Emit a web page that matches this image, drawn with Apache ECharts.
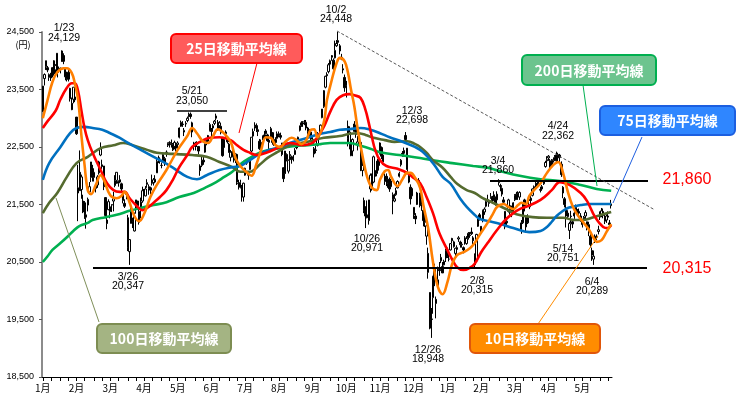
<!DOCTYPE html>
<html><head><meta charset="utf-8">
<script src="https://cdn.jsdelivr.net/npm/echarts/dist/echarts.min.js"></script>
<style>html,body{margin:0;padding:0;background:#fff;}#c{width:737px;height:417px;}</style>
</head><body><div id="c"></div>
<script>
// ---- x axis month labels (one label every 21 trading days) ----
const monthLabels = ['1月','2月','3月','4月','5月','6月','7月','8月','9月','10月','11月','12月','1月','2月','3月','4月','5月'];
const yTicks = [18500, 24500, 1000]; // min, max, step

// ---- daily candles [open, close, low, high] ----
const jan18 = [[23120,23560,23110,23560],[23690,23760,23570,23780],[24000,23900,23840,24000],[23880,23840,23800,23910],[23710,23760,23650,23780],[23770,23700,23650,23790],[23880,23760,23710,23880],[23770,24000,23740,24010],[23840,23920,23770,23940],[24130,23810,23710,24130],[23850,23860,23790,23900],[23850,23870,23780,23880],[23990,24170,23980,24180],[24090,23990,23940,24130],[23870,23720,23660,23880],[23690,23680,23640,23810],[23800,23680,23640,23840],[23520,23340,23290,23530],[23260,23150,23140,23360]];
const feb18 = [[23330,23540,23260,23540],[23370,23320,23280,23460],[23020,22730,22710,23020],[21790,21700,21210,22190],[22060,21740,21740,22440],[21760,21980,21600,22020],[21560,21510,21350,21670],[21530,21370,21250,21560],[21320,21280,21080,21410],[21490,21590,21380,21620],[21720,21810,21670,21890],[21970,22240,21890,22240],[22100,22010,21900,22190],[21970,22060,21900,22130],[21780,21830,21710,21860],[21840,21980,21790,22010],[22050,22240,22020,22260],[22360,22470,22340,22580],[22190,22160,22120,22280]];
const mar18 = [[22170,21810,21750,22170],[21620,21310,21260,21630],[21230,21170,21070,21340],[21410,21550,21400,21590],[21460,21380,21260,21520],[21490,21500,21370,21500],[21560,21600,21380,21720],[21830,21910,21800,22010],[21920,22060,21860,22060],[21900,21870,21810,21920],[21930,21890,21870,22010],[21860,21770,21730,21880],[21690,21570,21520,21700],[21520,21470,21440,21590],[21680,21680,21590,21700],[21270,20750,20690,21320],[20680,20890,20450,20900],[21170,21450,21170,21450],[21210,21160,21090,21270],[21040,21290,21030,21360],[21430,21580,21340,21580]];
const apr18 = [[21560,21480,21420,21560],[21190,21380,21150,21430],[21540,21410,21260,21620],[21560,21740,21530,21810],[21730,21660,21570,21770],[21650,21770,21640,21820],[21850,21880,21790,21940],[21810,21780,21670,21850],[21790,21750,21680,21810],[21890,21870,21830,22020],[21880,21930,21830,21960],[21890,21940,21870,22010],[22050,22250,22050,22290],[22300,22280,22220,22350],[22290,22250,22210,22320],[22180,22180,22130,22230],[22250,22370,22240,22380],[22230,22300,22170,22330],[22400,22410,22330,22440],[22530,22560,22500,22580]];
const may18 = [[22570,22580,22490,22600],[22560,22540,22490,22630],[22450,22540,22430,22570],[22510,22580,22460,22610],[22560,22480,22420,22570],[22540,22570,22470,22600],[22670,22830,22650,22840],[22860,22930,22850,22960],[22900,22890,22850,22950],[22760,22790,22690,22830],[22900,22910,22850,22950],[22960,23000,22930,23030],[23030,23070,23010,23100],[23070,23030,22990,23100],[22920,22760,22670,22940],[22570,22510,22440,22590],[22530,22520,22440,22590],[22550,22550,22500,22600],[22510,22430,22370,22510],[22170,22090,22000,22200],[22180,22270,22150,22330]];
const jun18 = [[22270,22240,22190,22330],[22410,22550,22400,22560],[22600,22610,22530,22630],[22600,22700,22570,22710],[22790,22890,22770,22920],[22820,22770,22670,22830],[22830,22870,22790,22900],[22910,22950,22880,22970],[23000,23040,22960,23080],[22930,22810,22780,22970],[22870,22920,22820,22950],[22860,22750,22720,22870],[22670,22350,22330,22670],[22490,22630,22460,22670],[22730,22760,22680,22790],[22630,22590,22560,22680],[22550,22410,22400,22570],[22320,22410,22250,22450],[22420,22340,22320,22530],[22320,22340,22230,22410],[22270,22380,22220,22390]];
const jul18 = [[22370,21890,21840,22370],[21860,21870,21760,21930],[21880,21800,21780,21930],[21820,21630,21550,21840],[21630,21870,21550,21880],[22010,22130,22000,22140],[22220,22270,22190,22280],[22030,22010,21930,22050],[22110,22260,22100,22300],[22430,22670,22410,22670],[22690,22770,22670,22820],[22880,22860,22780,22930],[22870,22830,22760,22910],[22800,22770,22690,22870],[22600,22470,22450,22640],[22480,22580,22460,22630],[22640,22690,22620,22700],[22710,22660,22620,22780],[22730,22780,22720,22810],[22710,22610,22590,22730],[22580,22620,22450,22650]];
const aug18 = [[22670,22820,22660,22850],[22750,22580,22540,22760],[22570,22600,22520,22640],[22630,22580,22540,22670],[22650,22730,22640,22770],[22730,22710,22670,22770],[22700,22670,22630,22750],[22570,22370,22340,22570],[22140,21950,21890,22140],[22040,22430,22030,22430],[22370,22280,22250,22390],[22080,22270,22040,22280],[22370,22350,22270,22430],[22330,22280,22210,22350],[22300,22300,22250,22360],[22370,22440,22360,22480],[22500,22490,22460,22560],[22510,22670,22480,22680],[22790,22870,22770,22870],[22920,22880,22850,22950],[22900,22920,22850,22950],[22940,22940,22880,22970],[22830,22930,22790,22970]];
const sep18 = [[22830,22770,22710,22850],[22780,22760,22690,22810],[22760,22640,22610,22780],[22610,22560,22530,22670],[22470,22380,22320,22500],[22450,22440,22390,22520],[22530,22730,22510,22760],[22710,22670,22580,22740],[22750,22880,22740,22890],[23010,23160,23000,23160],[23200,23480,23180,23490],[23540,23730,23520,23740],[23760,23740,23690,23800],[23810,23930,23780,23960],[23940,24000,23920,24020],[24060,24090,24000,24100],[24010,23860,23830,24040],[24050,24180,24040,24350]];
const oct18 = [[24260,24300,24240,24360],[24350,24320,24260,24500],[24260,24170,24110,24290],[24060,24030,24010,24120],[23860,23840,23780,23940],[23710,23530,23460,23760],[23560,23570,23360,23650],[22860,22650,22510,22960],[22560,22760,22460,22860],[22580,22350,22340,22680],[22430,22630,22340,22650],[22770,22900,22760,22950],[22860,22720,22660,22890],[22540,22590,22440,22690],[22710,22680,22650,22760],[22580,22100,22080,22580],[22090,22180,21990,22290],[21570,21390,21350,21620],[21420,21300,21090,21470],[21320,21270,21260,21570],[21220,21580,21150,21580],[21770,22010,21710,22040]];
const nov18 = [[21990,21780,21740,22040],[21890,22330,21870,22350],[22090,21990,21970,22140],[22040,22240,21990,22260],[22290,22180,22090,22320],[22390,22570,22370,22580],[22490,22340,22290,22510],[22240,22360,22190,22390],[21990,21900,21840,22040],[21990,21940,21820,22040],[21870,21890,21790,21940],[21940,21770,21720,21970],[21810,21910,21790,21940],[21590,21670,21330,21710],[21560,21600,21540,21690],[21670,21740,21650,21790],[21790,21900,21780,21920],[21990,22040,21970,22070],[22190,22270,22160,22290],[22390,22350,22330,22430],[22390,22440,22330,22490]];
const dec18 = [[22700,22630,22590,22760],[22480,22110,22070,22480],[21890,22010,21870,22040],[21800,21600,21500,21850],[21650,21780,21600,21800],[21450,21320,21250,21450],[21300,21250,21160,21350],[21500,21700,21490,21720],[21900,21920,21850,21960],[21700,21480,21450,21700],[21500,21610,21390,21610],[21400,21220,21120,21400],[21320,21190,21110,21410],[20950,21130,20800,21150],[20650,20320,20210,20750],[19970,19350,19330,19970],[19500,19510,19180,19700],[19880,20250,19600,20260],[20370,20190,20080,20470]];
const jan19 = [[19850,19780,19520,19900],[20090,20190,20060,20420],[20370,20350,20260,20500],[20520,20580,20480,20640],[20420,20310,20310,20500],[20450,20510,20440,20540],[20570,20700,20500,20730],[20710,20590,20570,20750],[20550,20550,20510,20630],[20710,20820,20700,20830],[20910,20870,20830,20920],[20850,20770,20750,20870],[20650,20740,20600,20750],[20750,20720,20650,20790],[20900,20920,20850,20950],[20850,20800,20750,20870],[20800,20810,20750,20850],[20750,20710,20650,20770],[20850,20920,20800,20950]];
const feb19 = [[20820,20910,20800,20950],[20920,21000,20890,21020],[20970,20960,20920,21020],[21020,20990,20970,21100],[20920,20870,20780,20950],[20620,20450,20400,20650],[20520,20980,20510,20990],[21120,21260,21110,21290],[21320,21260,21220,21350],[21120,21020,20980,21120],[21220,21400,21190,21410],[21370,21420,21320,21450],[21470,21550,21450,21590],[21570,21580,21540,21670],[21520,21540,21460,21580],[21620,21640,21600,21700],[21620,21570,21540,21650],[21620,21670,21570,21730],[21620,21500,21480,21640]];
const mar19 = [[21580,21680,21530,21730],[21880,21900,21830,21940],[21830,21810,21730,21860],[21780,21680,21640,21800],[21580,21540,21500,21630],[21380,21110,21070,21380],[21180,21210,21130,21280],[21380,21580,21360,21600],[21480,21370,21320,21530],[21430,21370,21280,21480],[21380,21530,21350,21540],[21580,21660,21560,21680],[21680,21650,21580,21720],[21630,21690,21580,21730],[21630,21710,21580,21730],[21180,21060,20990,21230],[21180,21510,21160,21510],[21580,21460,21380,21600],[21280,21110,21010,21300],[21180,21290,21160,21330]];
const apr19 = [[21460,21570,21420,21600],[21610,21570,21530,21650],[21660,21770,21640,21780],[21810,21780,21720,21830],[21840,21870,21800,21890],[21860,21820,21790,21890],[21860,21860,21810,21890],[21760,21750,21710,21810],[21810,21770,21740,21840],[21860,21930,21840,21960],[22160,22230,22140,22260],[22260,22280,22220,22340],[22310,22340,22260,22360],[22260,22150,22120,22290],[22160,22260,22150,22290],[22260,22280,22230,22320],[22330,22320,22260,22360],[22360,22260,22210,22420],[22310,22370,22260,22400],[22360,22320,22230,22380]];
const may19 = [[22200,22020,21980,22250],[21800,21700,21610,21820],[21600,21500,21450,21630],[21300,21440,21100,21500],[21350,21290,21250,21400],[21050,21170,20900,21200],[21300,21290,21180,21390],[21200,21160,21090,21250],[21300,21350,21250,21400],[21450,21400,21350,21500],[21400,21370,21300,21420],[21350,21380,21300,21430],[21300,21250,21200,21350],[21150,21220,21100,21250],[21250,21280,21200,21300],[21300,21360,21250,21400],[21200,21100,21050,21200],[21050,21150,20950,21200],[20950,20800,20750,21000]];
const jun19 = [[20700,20620,20520,20750],[20550,20600,20450,20700],[20880,20950,20830,20980],[20930,20950,20880,20980],[21030,21060,20980,21130],[21280,21310,21230,21380],[21330,21390,21280,21440],[21380,21310,21260,21430],[21280,21210,21160,21330],[21230,21300,21180,21330],[21280,21300,21230,21380],[21180,21150,21080,21230],[21480,21510,21430,21580]];

// ---- moving averages [trading-day index, value] ----
const ma10 = [[0,23000],[3,23320],[6,23630],[9,23800],[13,23870],[15,23870],[18,23790],[20,23600],[22,23320],[24,22710],[26,22190],[28,21750],[30,21680],[33,21840],[36,22010],[38,21930],[42,21660],[46,21610],[49,21650],[51,21720],[54,21540],[57,21300],[60,21210],[63,21330],[67,21630],[71,21840],[77,22100],[84,22450],[90,22690],[93,22830],[96,22740],[100,22590],[103,22570],[106,22690],[109,22810],[112,22760],[117,22590],[120,22310],[123,22170],[127,22060],[130,22000],[133,22200],[136,22450],[139,22670],[142,22660],[145,22530],[148,22500],[151,22590],[155,22660],[158,22620],[161,22550],[164,22620],[167,22800],[169,22810],[171,22670],[175,22930],[177,23320],[180,23670],[183,23960],[185,24050],[188,23990],[190,23800],[192,23490],[194,23210],[196,22830],[199,22360],[202,21980],[205,21790],[208,21750],[210,21930],[213,22080],[215,22100],[217,21980],[221,21820],[224,21940],[227,22050],[229,22050],[232,21960],[235,21790],[237,21490],[240,21090],[243,20500],[246,20070],[249,19940],[252,20150],[255,20470],[258,20620],[262,20670],[266,20740],[269,20830],[272,20970],[277,21180],[280,21320],[283,21460],[287,21510],[290,21460],[293,21420],[296,21490],[298,21530],[301,21510],[303,21650],[307,21780],[310,21870],[314,22050],[318,22190],[321,22240],[324,22050],[327,21720],[330,21470],[333,21320],[336,21210],[340,21070],[343,20920],[345,20850],[348,20880],[351,21020],[354,21160]];
const ma25 = [[0,22830],[3,22950],[8,23130],[11,23330],[15,23530],[18,23610],[20,23610],[22,23470],[24,23140],[26,22830],[28,22620],[31,22400],[36,22100],[40,21870],[44,21750],[48,21720],[51,21720],[54,21610],[59,21460],[62,21400],[65,21440],[69,21530],[73,21630],[77,21750],[81,21930],[85,22150],[90,22360],[93,22500],[98,22590],[104,22660],[110,22670],[117,22620],[121,22530],[125,22450],[129,22400],[133,22360],[140,22410],[146,22480],[154,22570],[162,22530],[168,22570],[171,22670],[175,22850],[179,23110],[183,23320],[187,23400],[191,23420],[194,23400],[198,23350],[201,23140],[203,22920],[205,22670],[207,22450],[210,22270],[214,22170],[221,22120],[227,22050],[231,21960],[235,21870],[239,21630],[243,21350],[247,21000],[252,20710],[255,20540],[258,20410],[262,20360],[266,20400],[269,20470],[273,20670],[277,20830],[283,21060],[288,21230],[293,21350],[297,21420],[301,21460],[310,21580],[317,21750],[322,21890],[328,21840],[335,21700],[339,21560],[344,21280],[349,21110],[352,21090],[354,21140]];
const ma75 = [[0,21930],[4,22220],[11,22500],[17,22740],[21,22830],[26,22850],[31,22830],[37,22800],[42,22740],[48,22660],[52,22590],[61,22450],[73,22270],[81,22140],[90,21980],[96,21940],[102,22010],[110,22100],[118,22150],[123,22170],[129,22270],[135,22380],[141,22450],[148,22500],[154,22570],[160,22620],[166,22670],[173,22730],[179,22760],[185,22800],[191,22810],[198,22830],[204,22800],[210,22740],[216,22670],[224,22590],[235,22450],[243,22220],[249,21980],[254,21860],[260,21600],[264,21460],[269,21320],[272,21250],[278,21210],[285,21160],[293,21090],[303,21020],[310,21040],[314,21110],[317,21200],[320,21300],[323,21370],[327,21440],[330,21460],[335,21490],[341,21510],[347,21510],[354,21510]];
const ma100 = [[0,21350],[4,21530],[9,21700],[15,21980],[21,22220],[28,22330],[36,22480],[44,22530],[50,22570],[56,22530],[65,22450],[71,22400],[81,22380],[93,22360],[102,22330],[110,22240],[118,22150],[123,22070],[129,22070],[135,22190],[140,22310],[146,22410],[154,22530],[165,22590],[175,22660],[185,22690],[191,22730],[196,22740],[201,22710],[206,22660],[213,22620],[219,22590],[227,22600],[232,22550],[235,22500],[239,22400],[243,22270],[249,22140],[254,21980],[258,21860],[264,21750],[269,21700],[274,21610],[278,21560],[285,21470],[290,21400],[295,21330],[305,21280],[314,21270],[324,21270],[331,21230],[336,21230],[343,21280],[349,21330],[354,21370]];
const ma200 = [[0,20500],[3,20600],[6,20710],[11,20830],[15,20930],[19,21040],[23,21130],[28,21180],[31,21230],[39,21280],[46,21320],[54,21390],[61,21440],[69,21490],[77,21540],[85,21630],[94,21700],[101,21790],[108,21890],[113,21980],[118,22070],[124,22220],[129,22310],[135,22400],[141,22450],[148,22480],[157,22520],[165,22530],[173,22550],[179,22570],[191,22570],[198,22520],[204,22470],[210,22410],[222,22360],[235,22310],[245,22260],[255,22220],[268,22170],[277,22140],[285,22080],[297,22000],[310,21940],[322,21910],[335,21840],[345,21770],[354,21740]];

// ---- annotation texts ----
const peakDates  = ['1/23','5/21','10/2','12/3','3/4','4/24','10/26','12/26','2/8','5/14','6/4','3/26'];
const peakValues = ['24,129','23,050','24,448','22,698','21,860','22,362','20,971','18,948','20,315','20,751','20,289','20,347'];
const levelTexts = ['21,860','20,315'];
const levelValues = [21910, 20395]; // where the two horizontal lines sit on the picture's axis
const boxTexts = ['25日移動平均線','200日移動平均線','75日移動平均線','100日移動平均線','10日移動平均線'];

const candles = [].concat(jan18,feb18,mar18,apr18,may18,jun18,jul18,aug18,sep18,oct18,nov18,dec18,jan19,feb19,mar19,apr19,may19,jun19);
const cats = candles.map((_, i) => String(i));
const tickSet = new Set();
for (let k = 0; Math.round(k * 5.25) < candles.length; k++) tickSet.add(Math.round(k * 5.25));

const FONT = "'Liberation Sans', Arial, 'Noto Sans CJK JP', sans-serif";
const JFONT = "'Noto Sans CJK JP', 'Liberation Sans', sans-serif";

const chart = echarts.init(document.getElementById('c'));
function maSeries(data, color) {
  return { type: 'line', data: data, smooth: 0.4, showSymbol: false, symbol: 'none',
    lineStyle: { color: color, width: 2.6 }, z: 3, silent: true };
}
chart.setOption({
  animation: false,
  backgroundColor: '#fff',
  grid: { left: 42, right: 125, top: 32, bottom: 40 },
  xAxis: {
    type: 'category', data: cats, boundaryGap: true,
    axisLine: { lineStyle: { color: '#000', width: 1 } },
    axisTick: { show: true, length: 4, alignWithLabel: true, interval: (i) => tickSet.has(i), lineStyle: { color: '#000' } },
    axisLabel: { interval: (i) => i % 21 === 0, formatter: (v, i) => monthLabels[Math.round(Number(v) / 21)] || '',
      fontSize: 10, color: '#000', margin: 6, fontFamily: JFONT },
    splitLine: { show: false }
  },
  yAxis: {
    type: 'value', min: yTicks[0], max: yTicks[1], interval: yTicks[2],
    axisLine: { show: true, lineStyle: { color: '#8c8c8c', width: 2 } },
    axisTick: { show: true, length: 3, lineStyle: { color: '#555' } },
    axisLabel: { fontSize: 9, color: '#000', margin: 8, fontFamily: FONT,
      formatter: (v) => String(v).replace(/\B(?=(\d{3})+(?!\d))/g, ',') },
    splitLine: { show: false }
  },
  series: [
    { type: 'candlestick', data: candles, barWidth: 1.9, z: 2,
      itemStyle: { color: '#ffffff', color0: '#000000', borderColor: '#000000', borderColor0: '#000000', borderWidth: 1 } },
    maSeries(ma200, '#00B050'),
    maSeries(ma100, '#556B2F'),
    maSeries(ma75, '#0070C0'),
    maSeries(ma25, '#FF0000'),
    maSeries(ma10, '#FF7F00')
  ]
});

// ---- annotations ----
const g = [];
const txt = (s, x, y, opt) => g.push(Object.assign({ type: 'text', x: x, y: y, z: 20,
  style: Object.assign({ text: s, fill: '#000', font: '10.5px ' + FONT, textAlign: 'center', textVerticalAlign: 'middle' }, opt || {}) }));
const line = (x1, y1, x2, y2, stroke, w, dash) => g.push({ type: 'line', z: 15,
  shape: { x1: x1, y1: y1, x2: x2, y2: y2 }, style: { stroke: stroke, lineWidth: w, lineDash: dash || null } });

const peakPos = [[64,28.5],[192,91.5],[336,10],[412,111],[498,161],[558,126.5],[367,239],[428,350],[477,281],[563,249],[592,282],[128,277]];
peakDates.forEach((d, i) => { txt(d, peakPos[i][0], peakPos[i][1]); txt(peakValues[i], peakPos[i][0], peakPos[i][1] + 9.5); });

txt('(円)', 23, 45, { font: '9px ' + JFONT });

// horizontal reference lines
const yHi = chart.convertToPixel({ yAxisIndex: 0 }, levelValues[0]);
const yLo = chart.convertToPixel({ yAxisIndex: 0 }, levelValues[1]);
line(490, yHi, 648, yHi, '#000', 2);
line(93, yLo, 647, yLo, '#000', 2);
line(177, 111, 227, 111, '#000', 1.3);
txt(levelTexts[0], 687, yHi - 1, { fill: '#FF0000', font: '16px ' + FONT });
txt(levelTexts[1], 687, yLo + 1, { fill: '#FF0000', font: '16px ' + FONT });

// downward trend line from the 10/2 high
line(337, 31, 655, 210, '#444', 0.9, [3, 2]);

// callout connectors
line(257, 63, 239, 133, '#FF0000', 1);
line(583, 85, 597, 186, '#00B050', 1);
line(642, 137, 613, 203, '#1F5FE0', 1);
line(99, 322, 56, 198, '#7F8F5A', 1);
line(538, 324, 598, 236, '#FF8C00', 1);

// callout boxes
const boxPos = [[171,34,131,29],[522,55,134,30],[600,106,135,29],[97,324,134,29],[470,324,130,29]];
const boxFill = ['#FF5B5B','#6CC48E','#2F86FF','#A4B483','#FF8C00'];
const boxStroke = ['#FF0000','#00B050','#1C5FE0','#7D8D52','#E0560A'];
boxTexts.forEach((t, i) => {
  const [x, y, w, h] = boxPos[i];
  g.push({ type: 'rect', z: 16, shape: { x: x, y: y, width: w, height: h, r: 5 },
    style: { fill: boxFill[i], stroke: boxStroke[i], lineWidth: 2 } });
  txt(t, x + w / 2, y + h / 2 + 0.5, { fill: '#fff', font: 'bold 14px ' + JFONT });
});

chart.setOption({ graphic: { elements: g } });
</script>
</body></html>
